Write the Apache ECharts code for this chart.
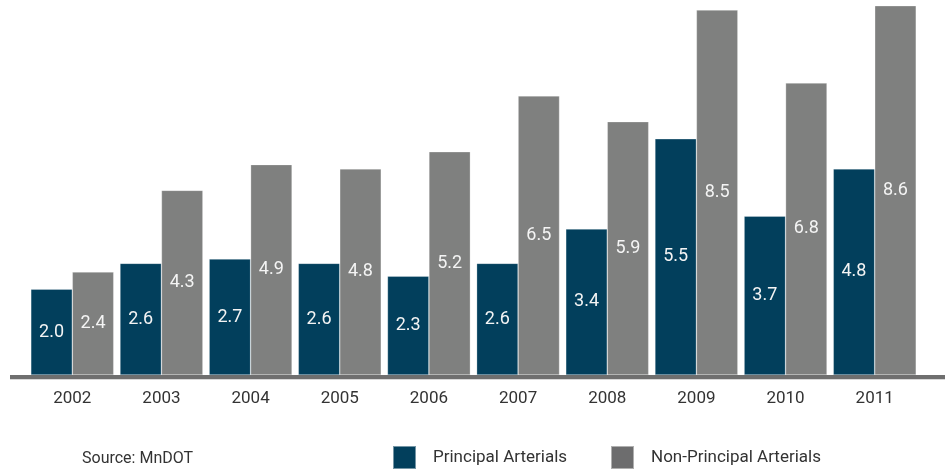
<!DOCTYPE html>
<html>
<head>
<meta charset="utf-8">
<script src="https://cdn.jsdelivr.net/npm/echarts@6/dist/echarts.min.js"></script>
<style>
  html, body { margin: 0; padding: 0; background: #fff; }
  #chart { width: 950px; height: 470px; }
</style>
</head>
<body>
<div id="chart"></div>
<script>
const years = ['2002', '2003', '2004', '2005', '2006', '2007', '2008', '2009', '2010', '2011'];
const principal = [2.0, 2.6, 2.7, 2.6, 2.3, 2.6, 3.4, 5.5, 3.7, 4.8];
const nonPrincipal = [2.4, 4.3, 4.9, 4.8, 5.2, 6.5, 5.9, 8.5, 6.8, 8.6];

const FONT = 'Roboto, "DejaVu Sans Condensed", sans-serif';
const NAVY = '#023f5c';
const GREY = '#7f807f';

const chart = echarts.init(document.getElementById('chart'), null, { renderer: 'canvas' });

const barLabel = {
  show: true,
  position: 'inside',
  color: '#f4f4f4',
  fontFamily: FONT,
  fontSize: 18,
  formatter: (p) => p.value.toFixed(1)
};

const legendBase = {
  orient: 'horizontal',
  top: 440,
  itemWidth: 23,
  itemHeight: 23,
  icon: 'rect',
  selectedMode: false,
  textStyle: { color: '#333', fontFamily: FONT, fontSize: 17, padding: [0, 0, 0, 12] }
};

chart.setOption({
  animation: false,
  title: {
    text: 'Source: MnDOT',
    left: 77,
    top: 446,
    textStyle: { color: '#333', fontFamily: FONT, fontSize: 16, fontWeight: 'normal' }
  },
  legend: [
    Object.assign({}, legendBase, { left: 387, data: [{ name: 'Principal Arterials', itemStyle: { color: NAVY } }] }),
    Object.assign({}, legendBase, { left: 605, data: [{ name: 'Non-Principal Arterials', itemStyle: { color: '#6d6d6e' } }] })
  ],
  grid: { left: 27.7, right: 30.7, top: 5.7, bottom: 95, containLabel: false },
  xAxis: {
    type: 'category',
    data: years,
    axisLine: { show: false },
    axisTick: { show: false },
    axisLabel: { color: '#333', fontFamily: FONT, fontSize: 17, margin: 15 }
  },
  yAxis: {
    type: 'value',
    min: 0,
    max: 8.6,
    show: false,
    splitLine: { show: false }
  },
  series: [
    {
      name: 'Principal Arterials',
      type: 'bar',
      data: principal,
      barGap: '0%',
      barCategoryGap: '7%',
      itemStyle: { color: NAVY, borderColor: 'rgba(255,255,255,0.45)', borderWidth: 0.6 },
      label: barLabel
    },
    {
      name: 'Non-Principal Arterials',
      type: 'bar',
      data: nonPrincipal,
      barGap: '0%',
      barCategoryGap: '7%',
      itemStyle: { color: GREY, borderColor: 'rgba(255,255,255,0.45)', borderWidth: 0.6 },
      label: barLabel
    }
  ],
  graphic: [
    // baseline bar that runs past the plot on both sides
    { type: 'rect', left: 10, top: 375, shape: { width: 935, height: 4 }, style: { fill: '#6f6f6f' }, z: 10 },
    { type: 'rect', left: 10, top: 379, shape: { width: 935, height: 1 }, style: { fill: '#d8d8d8' }, z: 10 }
  ]
});
</script>
</body>
</html>
